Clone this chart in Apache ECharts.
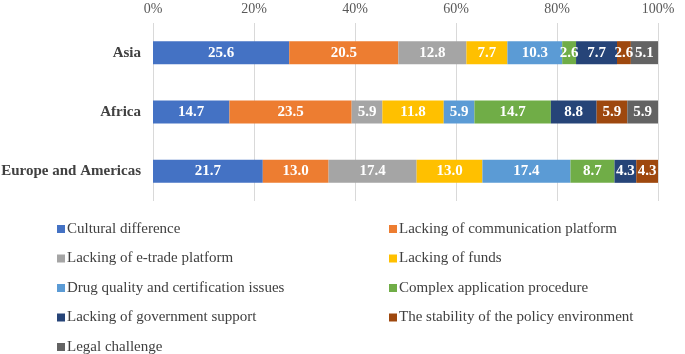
<!DOCTYPE html>
<html><head><meta charset="utf-8">
<script src="https://cdn.jsdelivr.net/npm/echarts@6/dist/echarts.min.js"></script>
<style>html,body{margin:0;padding:0;background:#fff}#c{width:685px;height:354px}</style>
</head><body><div id="c"></div>
<script>
var regions = ['Asia', 'Africa', 'Europe and Americas'];
var seriesNames = ['Cultural difference', 'Lacking of communication platform', 'Lacking of e-trade platform', 'Lacking of funds', 'Drug quality and certification issues', 'Complex application procedure', 'Lacking of government support', 'The stability of the policy environment', 'Legal challenge'];
var culturalDifference = [25.6, 14.7, 21.7];
var lackingCommunication = [20.5, 23.5, 13.0];
var lackingETrade = [12.8, 5.9, 17.4];
var lackingFunds = [7.7, 11.8, 13.0];
var drugQuality = [10.3, 5.9, 17.4];
var complexProcedure = [2.6, 14.7, 8.7];
var lackingGovSupport = [7.7, 8.8, 4.3];
var policyStability = [2.6, 5.9, 4.3];
var legalChallenge = [5.1, 5.9, null];
var xTickLabels = ['0%', '20%', '40%', '60%', '80%', '100%'];

var colors = ['#4472C4', '#ED7D31', '#A5A5A5', '#FFC000', '#5B9BD5', '#70AD47', '#264478', '#9E480E', '#636363'];
var allValues = [culturalDifference, lackingCommunication, lackingETrade, lackingFunds, drugQuality, complexProcedure, lackingGovSupport, policyStability, legalChallenge];
var totals = regions.map(function (r, i) {
  return allValues.reduce(function (s, arr) { return s + (arr[i] || 0); }, 0);
});
var font = 'Liberation Serif';
var series = allValues.map(function (arr, k) {
  return {
    name: seriesNames[k], type: 'bar', stack: 'total', barWidth: 23,
    itemStyle: { color: colors[k] },
    label: { show: true, position: 'inside', color: '#fff', fontFamily: font, fontWeight: 'bold', fontSize: 15,
      formatter: function (p) { return arr[p.dataIndex].toFixed(1); } },
    data: arr.map(function (v, i) { return v == null ? null : v / totals[i] * 100; })
  };
});
var chart = echarts.init(document.getElementById('c'));
var legendCommon = { orient: 'vertical', icon: 'rect', itemWidth: 8, itemHeight: 8, itemGap: 14.5, height: 150,
  textStyle: { fontFamily: font, fontSize: 15, color: '#404040', padding: [0, 0, 0, -3] }, top: 221.5, padding: 0 };
chart.setOption({
  animation: false,
  grid: { left: 153, right: 27, top: 23, bottom: 153, outerBoundsMode: 'none', containLabel: false },
  legend: [
    Object.assign({ left: 57, data: [seriesNames[0], seriesNames[2], seriesNames[4], seriesNames[6], seriesNames[8]] }, legendCommon),
    Object.assign({ left: 389, data: [seriesNames[1], seriesNames[3], seriesNames[5], seriesNames[7]] }, legendCommon)
  ],
  xAxis: { type: 'value', position: 'top', min: 0, max: 100, interval: 20,
    axisLine: { show: false }, axisTick: { show: false },
    splitLine: { lineStyle: { color: '#D9D9D9', width: 1 } },
    axisLabel: { margin: 7, fontFamily: font, fontSize: 14, color: '#595959',
      formatter: function (v) { return xTickLabels[v / 20]; } } },
  yAxis: { type: 'category', inverse: true, data: regions,
    axisLine: { show: false }, axisTick: { show: false },
    axisLabel: { margin: 12, fontFamily: font, fontSize: 15, fontWeight: 'bold', color: '#404040' } },
  series: series
});
</script></body></html>
